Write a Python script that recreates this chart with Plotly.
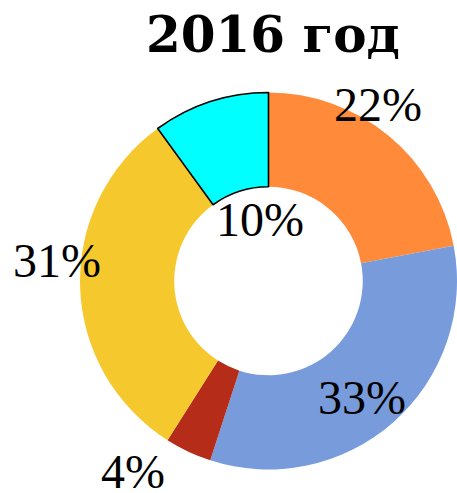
import plotly.graph_objects as go

# Share of each category in 2016, clockwise from 12 o'clock
categories = ["A", "B", "C", "D", "E"]
shares = [22, 33, 4, 31, 10]
colors = ["#FF8A3A", "#779BDB", "#B52D18", "#F5C92E", "#00FFFF"]
outline = [0, 0, 0, 0, 1.6]

# Label anchor points (pixel positions in the 457x493 canvas)
label_px = [(378, 104), (362, 397), (133, 471), (57, 260), (260, 219)]

W, H = 457, 493

fig = go.Figure(
    go.Pie(
        labels=categories,
        values=shares,
        sort=False,
        direction="clockwise",
        rotation=0,
        hole=0.5,
        textinfo="none",
        hoverinfo="label+percent",
        marker=dict(colors=colors, line=dict(color="black", width=outline)),
        domain=dict(x=[80 / W, 1.0], y=[(H - 471) / H, (H - 91) / H]),
        showlegend=False,
    )
)

for v, (px, py) in zip(shares, label_px):
    fig.add_annotation(
        x=px / W, y=1 - py / H, xref="paper", yref="paper",
        text=f"{v}%", showarrow=False, xanchor="center", yanchor="middle",
        font=dict(family="Liberation Serif", size=48, color="black"),
    )

fig.add_annotation(
    x=273 / W, y=1 - 35 / H, xref="paper", yref="paper",
    text="<b>2016 год</b>", showarrow=False, xanchor="center", yanchor="middle",
    font=dict(family="DejaVu Serif", size=50, color="black"),
)

fig.update_layout(
    width=W, height=H,
    margin=dict(l=0, r=0, t=0, b=0),
    paper_bgcolor="white", plot_bgcolor="white",
)

fig.write_html("out.html")
